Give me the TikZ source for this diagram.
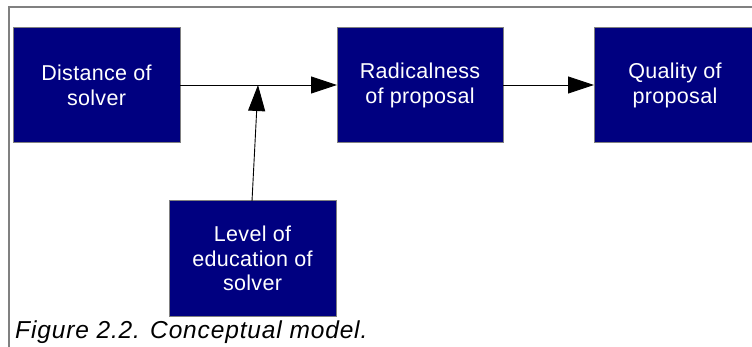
\documentclass[tikz,border=0pt]{standalone}
\usepackage{fontspec}
\setmainfont{Liberation Sans}
\newfontfamily\capfont[LetterSpace=3.5]{Liberation Sans}
\newfontfamily\boxfont[LetterSpace=1.5]{Liberation Sans}
\usetikzlibrary{arrows.meta}
\definecolor{boxnavy}{HTML}{000080}
\definecolor{framegray}{HTML}{808080}
\begin{document}
\begin{tikzpicture}[x=1pt,y=-1pt,
  block/.style={draw=framegray,line width=1pt,fill=boxnavy},
  btext/.style={text=white,align=center,inner sep=0pt,font=\boxfont\fontsize{21.5}{24.5}\selectfont},
  conn/.style={draw=black,line width=0.9pt,-{Triangle[length=26pt,width=17pt]}}]
\useasboundingbox (0,0) rectangle (752,347);
\fill[white] (0,0) rectangle (752,347);
% frame
\draw[framegray,line width=1.5pt] (9,347) -- (9,7) -- (752,7);
% boxes
\path[block] (13,28) rectangle (180,143);
\node[btext] (dist) at (96.5,85.5) {Distance of\\solver};
\path[block] (337,28) rectangle (503,143);
\node[btext] (rad) at (420,85.5) {Radicalness\\of proposal};
\path[block] (594,28) rectangle (760,143);
\node[btext] (qual) at (675,85.5) {Quality of\\proposal};
\path[block] (169,201) rectangle (336,316);
\node[btext] (lev) at (252.5,258.5) {Level of\\education of\\solver};
% connector anchors
\coordinate (distR) at (180,85);
\coordinate (radL) at (337,85);
\coordinate (radR) at (503,85);
\coordinate (qualL) at (594,85);
\coordinate (levT) at (252,201);
\coordinate (join) at (258,85);
\draw[conn] (distR) -- (radL);
\draw[conn] (radR) -- (qualL);
\draw[conn] (levT) -- (join);
% caption
\node[anchor=base west,inner sep=0pt,font=\capfont\fontsize{24.5}{27}\selectfont\itshape] (cap) at (15,338.5) {Figure 2.2. Conceptual model.};
\end{tikzpicture}
\end{document}
